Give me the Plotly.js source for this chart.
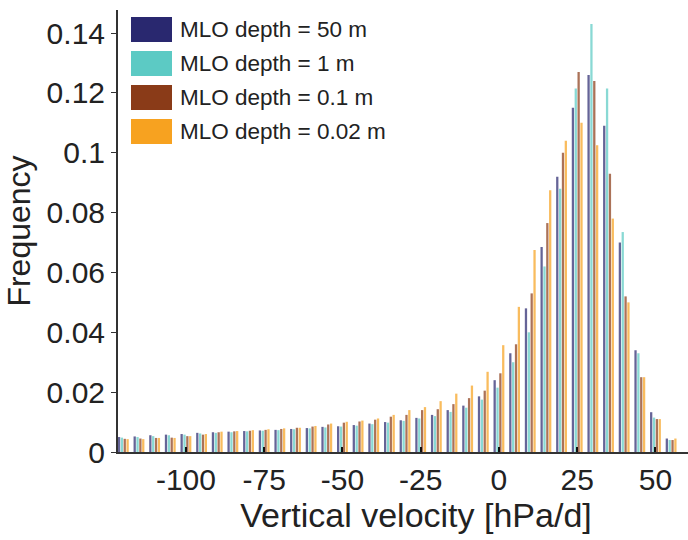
<!DOCTYPE html>
<html>
<head>
<meta charset="utf-8">
<script src="https://cdn.plot.ly/plotly-3.0.1.min.js"></script>
<style>
html,body{margin:0;padding:0;overflow:hidden;background:#fff;}
#chart{width:714px;height:540px;}
</style>
</head>
<body>
<div id="chart"></div>
<script>
// Bin centres (hPa/d)
var bins = [-120,-115,-110,-105,-100,-95,-90,-85,-80,-75,-70,-65,-60,-55,-50,-45,-40,-35,-30,-25,-20,-15,-10,-5,0,5,10,15,20,25,30,35,40,45,50,55];

var freq50m = [0.0050,0.0052,0.0056,0.0058,0.0060,0.0064,0.0066,0.0068,0.0070,0.0072,0.0074,0.0077,0.0080,0.0084,0.0086,0.0090,0.0095,0.0100,0.0106,0.0114,0.0124,0.0140,0.0155,0.0186,0.0240,0.0330,0.0480,0.0685,0.0920,0.1150,0.1260,0.1090,0.0700,0.0340,0.0133,0.0045];
var freq1m  = [0.0048,0.0050,0.0053,0.0056,0.0058,0.0062,0.0064,0.0066,0.0069,0.0071,0.0073,0.0076,0.0079,0.0082,0.0085,0.0088,0.0093,0.0098,0.0104,0.0112,0.0120,0.0134,0.0148,0.0175,0.0215,0.0300,0.0400,0.0620,0.0880,0.1215,0.1430,0.1215,0.0735,0.0330,0.0115,0.0040];
var freq01m = [0.0044,0.0045,0.0047,0.0048,0.0053,0.0058,0.0066,0.0069,0.0071,0.0074,0.0077,0.0081,0.0085,0.0092,0.0098,0.0102,0.0108,0.0118,0.0124,0.0140,0.0143,0.0160,0.0180,0.0205,0.0263,0.0360,0.0530,0.0765,0.1000,0.1270,0.1240,0.0930,0.0520,0.0250,0.0110,0.0040];
var freq002m= [0.0043,0.0043,0.0047,0.0047,0.0053,0.0060,0.0068,0.0070,0.0073,0.0076,0.0079,0.0081,0.0087,0.0095,0.0101,0.0105,0.0112,0.0124,0.0140,0.0150,0.0170,0.0195,0.0222,0.0268,0.0357,0.0485,0.0675,0.0875,0.1040,0.1100,0.1025,0.0780,0.0500,0.0250,0.0110,0.0045];

var seriesNames = ["MLO depth = 50 m","MLO depth = 1 m","MLO depth = 0.1 m","MLO depth = 0.02 m"];
var seriesColors = ["#29286f","#5ccac4","#8a3b18","#f7a220"];
var seriesValues = [freq50m, freq1m, freq01m, freq002m];

var xTickVals = [-100,-75,-50,-25,0,25,50];
var xTickText = ["-100","-75","-50","-25","0","25","50"];
var yTickVals = [0,0.02,0.04,0.06,0.08,0.1,0.12,0.14];
var yTickText = ["0","0.02","0.04","0.06","0.08","0.1","0.12","0.14"];

var traces = seriesValues.map(function(v,i){
  return {
    type:"bar", x:bins, y:v, name:seriesNames[i],
    marker:{color:seriesColors[i], opacity:0.72, line:{width:0}},
    showlegend:false, hoverinfo:"x+y"
  };
});

// Custom legend (large swatches like the original)
var shapes = [], annotations = [];
var lx0 = 0.0218, lx1 = 0.0906, ltop = 0.984, lh = 0.0566, lstep = 0.0769;
for (var i=0;i<seriesNames.length;i++){
  var yt = ltop - i*lstep;
  shapes.push({type:"rect", xref:"paper", yref:"paper", x0:lx0, x1:lx1, y0:yt-lh, y1:yt,
               fillcolor:seriesColors[i], line:{width:0}});
  annotations.push({xref:"paper", yref:"paper", x:0.1007, y:yt-lh/2, xanchor:"left", yanchor:"middle",
                    text:seriesNames[i], showarrow:false,
                    font:{family:"Liberation Sans, Arial, sans-serif", size:22.5, color:"#222"}});
}

var layout = {
  width:714, height:540,
  margin:{l:118, r:0, t:10, b:88},
  paper_bgcolor:"#fff", plot_bgcolor:"#fff",
  barmode:"group", bargap:0.27, bargroupgap:0.2,
  font:{family:"Liberation Sans, Arial, sans-serif", color:"#222"},
  xaxis:{
    range:[-121.7, 68.7], tickvals:xTickVals, ticktext:xTickText, ticks:"inside", ticklen:5, tickcolor:"#111", tickwidth:2,
    showline:true, linecolor:"#333", linewidth:2, showgrid:false, zeroline:false,
    tickfont:{size:30, color:"#222"}, ticklabelstandoff:0,
    title:{text:"Vertical velocity [hPa/d]", font:{size:34, color:"#222"}, standoff:2}
  },
  yaxis:{
    range:[0, 0.1477], tickvals:yTickVals, ticktext:yTickText, ticks:"outside", ticklen:5, tickcolor:"#333",
    showline:true, linecolor:"#333", linewidth:2, showgrid:false, zeroline:false,
    tickfont:{size:30, color:"#222"},
    title:{text:"Frequency", font:{size:32, color:"#222"}, standoff:6}
  },
  shapes:shapes, annotations:annotations,
  showlegend:false
};

Plotly.newPlot("chart", traces, layout, {displayModeBar:false, staticPlot:true});
</script>
</body>
</html>
